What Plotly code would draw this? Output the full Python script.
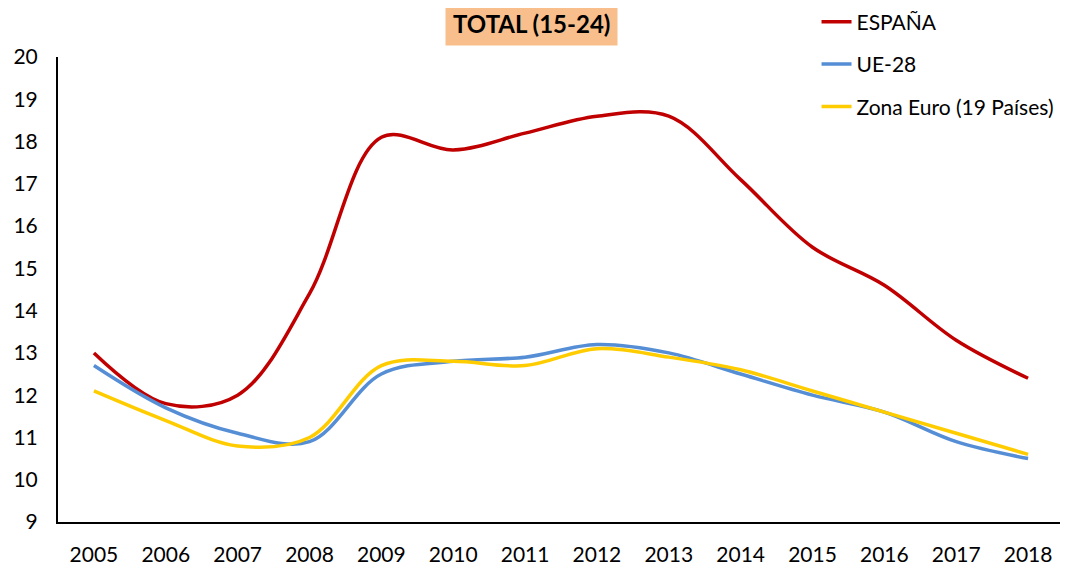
import plotly.graph_objects as go

years = [str(y) for y in range(2005, 2019)]
espana = [13.0, 11.8, 12.0, 14.4, 18.1, 17.8, 18.2, 18.6, 18.6, 17.1, 15.5, 14.6, 13.3, 12.4]
ue28 = [12.7, 11.7, 11.1, 10.9, 12.5, 12.8, 12.9, 13.2, 13.0, 12.5, 12.0, 11.6, 10.9, 10.5]
zona_euro = [12.1, 11.4, 10.8, 11.0, 12.7, 12.8, 12.7, 13.1, 12.9, 12.6, 12.1, 11.6, 11.1, 10.6]

series = [
    ("ESPAÑA", espana, "#C00000"),
    ("UE-28", ue28, "#558ED5"),
    ("Zona Euro (19 Países)", zona_euro, "#FFCC00"),
]

FONT = "Lato"

fig = go.Figure()
for i, (name, vals, color) in enumerate(series):
    fig.add_trace(
        go.Scatter(
            x=years,
            y=vals,
            mode="lines",
            name=name,
            legendgroup=f"g{i}",
            line=dict(color=color, width=3.5, shape="spline", smoothing=1.0),
        )
    )

fig.add_annotation(
    text="<b>TOTAL (15-24)</b>",
    xref="paper",
    yref="paper",
    x=0.471,
    y=1.071,
    xanchor="center",
    yanchor="middle",
    showarrow=False,
    bgcolor="#F8BF8C",
    borderpad=7,
    font=dict(family=FONT, size=24, color="#000000"),
)

# page body adds an 8px offset, so the figure is a bit smaller than the window
fig.update_layout(
    width=1060,
    height=560,
    margin=dict(l=50, r=4, t=49, b=46, autoexpand=False),
    plot_bgcolor="white",
    paper_bgcolor="white",
    font=dict(family=FONT, size=21, color="#000000"),
    showlegend=True,
    legend=dict(
        x=0.754,
        y=1.119,
        xanchor="left",
        yanchor="top",
        tracegroupgap=12,
        bgcolor="rgba(0,0,0,0)",
        font=dict(family=FONT, size=21),
    ),
)

fig.update_xaxes(
    type="category",
    range=[-0.5, len(years) - 0.5],
    showline=True,
    linecolor="#000000",
    linewidth=2,
    showgrid=False,
    ticks="",
    ticklabelstandoff=13,
)
fig.update_yaxes(
    range=[9, 20],
    dtick=1,
    showline=True,
    linecolor="#000000",
    linewidth=2,
    showgrid=False,
    zeroline=False,
    ticks="",
    ticklabelstandoff=14,
)

fig.write_html("out.html")
